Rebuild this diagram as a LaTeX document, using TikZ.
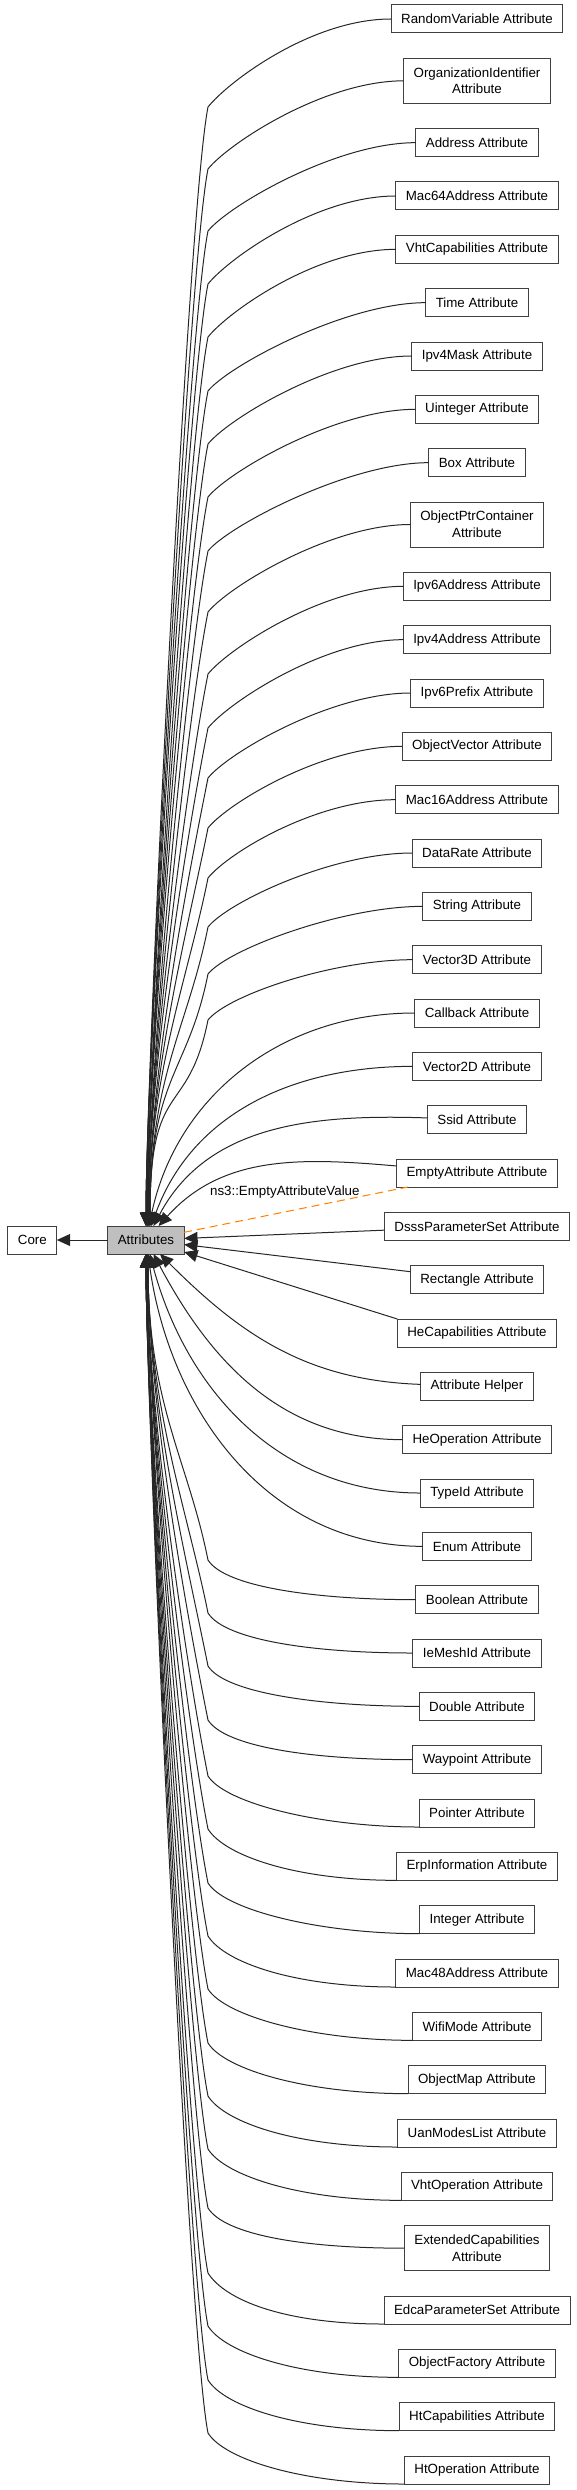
\documentclass[tikz,border=0pt]{standalone}
\usepackage{fontspec}
\setmainfont{Liberation Sans}
\usetikzlibrary{positioning,arrows.meta}
\tikzset{
  every node/.style={font=\fontsize{10}{12.5}\selectfont},
  cls/.style={draw=black!75,line width=0.75pt,rectangle,inner xsep=7.5pt,inner ysep=2pt,
    minimum height=21pt,outer sep=0pt,align=center},
  cls2/.style={cls,minimum height=33.75pt},
  inh/.style={color=black!85,line width=0.75pt,-{Triangle[length=10pt,width=9pt]}},
  tmpl/.style={draw=orange,line width=0.75pt,dash pattern=on 6pt off 3.75pt},
  upk/.style 2 args={to path={.. controls +(-80,0) and +(20,25) .. (208,#1)
    .. controls +(-20,-100) and +(0,150) .. ([shift={(#2,0)}]\tikztotarget.north)}},
  dnk/.style 2 args={to path={.. controls +(-100,0) and +(17,-27) .. (208,#1)
    .. controls +(-20,100) and +(0,-150) .. ([shift={(#2,0)}]\tikztotarget.south)}}
}
\begin{document}
\begin{tikzpicture}[x=0.75pt,y=0.75pt,node distance=19pt]
\useasboundingbox (0,0) rectangle (576,-2490);
\node[cls,fill=black!25] (attr) at (146,-1240) {Attributes};
\node[cls] (core) [left=38.25pt of attr] {Core};
\node[cls]  (rv)     at (477,-19)         {RandomVariable Attribute};
\node[cls2] (oid)    [below=of rv]     {OrganizationIdentifier\\Attribute};
\node[cls]  (addr)   [below=of oid]    {Address Attribute};
\node[cls]  (mac64)  [below=of addr]   {Mac64Address Attribute};
\node[cls]  (vhtcap) [below=of mac64]  {VhtCapabilities Attribute};
\node[cls]  (time)   [below=of vhtcap] {Time Attribute};
\node[cls]  (v4mask) [below=of time]   {Ipv4Mask Attribute};
\node[cls]  (uint)   [below=of v4mask] {Uinteger Attribute};
\node[cls]  (box)    [below=of uint]   {Box Attribute};
\node[cls2] (ptrc)   [below=of box]    {ObjectPtrContainer\\Attribute};
\node[cls]  (v6addr) [below=of ptrc]   {Ipv6Address Attribute};
\node[cls]  (v4addr) [below=of v6addr] {Ipv4Address Attribute};
\node[cls]  (v6pre)  [below=of v4addr] {Ipv6Prefix Attribute};
\node[cls]  (ovec)   [below=of v6pre]  {ObjectVector Attribute};
\node[cls]  (mac16)  [below=of ovec]   {Mac16Address Attribute};
\node[cls]  (drate)  [below=of mac16]  {DataRate Attribute};
\node[cls]  (str)    [below=of drate]  {String Attribute};
\node[cls]  (v3d)    [below=of str]    {Vector3D Attribute};
\node[cls]  (cb)     [below=of v3d]    {Callback Attribute};
\node[cls]  (v2d)    [below=of cb]     {Vector2D Attribute};
\node[cls]  (ssid)   [below=of v2d]    {Ssid Attribute};
\node[cls]  (empty)  [below=of ssid]   {EmptyAttribute Attribute};
\node[cls]  (dsss)   [below=of empty]  {DsssParameterSet Attribute};
\node[cls]  (rect)   [below=of dsss]   {Rectangle Attribute};
\node[cls]  (hecap)  [below=of rect]   {HeCapabilities Attribute};
\node[cls]  (helper) [below=of hecap]  {Attribute Helper};
\node[cls]  (heop)   [below=of helper] {HeOperation Attribute};
\node[cls]  (tid)    [below=of heop]   {TypeId Attribute};
\node[cls]  (enum)   [below=of tid]    {Enum Attribute};
\node[cls]  (bool)   [below=of enum]   {Boolean Attribute};
\node[cls]  (mesh)   [below=of bool]   {IeMeshId Attribute};
\node[cls]  (dbl)    [below=of mesh]   {Double Attribute};
\node[cls]  (wp)     [below=of dbl]    {Waypoint Attribute};
\node[cls]  (ptr)    [below=of wp]     {Pointer Attribute};
\node[cls]  (erp)    [below=of ptr]    {ErpInformation Attribute};
\node[cls]  (int)    [below=of erp]    {Integer Attribute};
\node[cls]  (mac48)  [below=of int]    {Mac48Address Attribute};
\node[cls]  (wifi)   [below=of mac48]  {WifiMode Attribute};
\node[cls]  (omap)   [below=of wifi]   {ObjectMap Attribute};
\node[cls]  (uan)    [below=of omap]   {UanModesList Attribute};
\node[cls]  (vhtop)  [below=of uan]    {VhtOperation Attribute};
\node[cls2] (ext)    [below=of vhtop]  {ExtendedCapabilities\\Attribute};
\node[cls]  (edca)   [below=of ext]    {EdcaParameterSet Attribute};
\node[cls]  (ofac)   [below=of edca]   {ObjectFactory Attribute};
\node[cls]  (htcap)  [below=of ofac]   {HtCapabilities Attribute};
\node[cls]  (htop)   [below=of htcap]  {HtOperation Attribute};
% upper half
\path[inh] (rv.west)     edge[upk={-107}{0}]  (attr)
           (oid.west)    edge[upk={-169}{0}]  (attr)
           (addr.west)   edge[upk={-231}{0}]  (attr)
           (mac64.west)  edge[upk={-284}{0}]  (attr)
           (vhtcap.west) edge[upk={-337}{1}]  (attr)
           (time.west)   edge[upk={-391}{1}]  (attr)
           (v4mask.west) edge[upk={-444}{1}]  (attr)
           (uint.west)   edge[upk={-497}{1}]  (attr)
           (box.west)    edge[upk={-551}{2}]  (attr)
           (ptrc.west)   edge[upk={-612}{2}]  (attr)
           (v6addr.west) edge[upk={-674}{2}]  (attr)
           (v4addr.west) edge[upk={-728}{2}]  (attr)
           (v6pre.west)  edge[upk={-778}{3}]  (attr)
           (ovec.west)   edge[upk={-828}{3}]  (attr)
           (mac16.west)  edge[upk={-878}{3}]  (attr)
           (drate.west)  edge[upk={-927}{4}]  (attr)
           (str.west)    edge[upk={-974}{4}]  (attr)
           (v3d.west)    edge[upk={-1020}{4}] (attr)
           (cb)    edge[out=180,in=78]  (attr)
           (v2d)   edge[out=180,in=70]  (attr)
           (ssid)  edge[out=178,in=62]  (attr)
           (empty) edge[out=175,in=48]  (attr)
           (dsss)  edge (attr)
           (rect)  edge (attr)
           (hecap.north west) edge (attr);
% lower half
\path[inh] (helper) edge[out=178,in=-45] (attr)
           (heop)   edge[out=180,in=-62] (attr)
           (tid)    edge[out=180,in=-75] (attr)
           (enum)   edge[out=180,in=-82] (attr)
           (bool.west)        edge[dnk={-1560}{2}] (attr)
           (mesh.west)        edge[dnk={-1613}{2}] (attr)
           (dbl.west)         edge[dnk={-1666}{2}] (attr)
           (wp.west)          edge[dnk={-1720}{2}] (attr)
           (ptr.south west)   edge[dnk={-1776}{1}] (attr)
           (erp.south west)   edge[dnk={-1829}{1}] (attr)
           (int.south west)   edge[dnk={-1883}{1}] (attr)
           (mac48.south west) edge[dnk={-1936}{1}] (attr)
           (wifi.south west)  edge[dnk={-1989}{1}] (attr)
           (omap.south west)  edge[dnk={-2043}{0}] (attr)
           (uan.south west)   edge[dnk={-2096}{0}] (attr)
           (vhtop.south west) edge[dnk={-2149}{0}] (attr)
           (ext.west)         edge[dnk={-2208}{0}] (attr)
           (edca.south west)  edge[dnk={-2273}{0}] (attr)
           (ofac.south west)  edge[dnk={-2326}{0}] (attr)
           (htcap.south west) edge[dnk={-2380}{0}] (attr)
           (htop.south west)  edge[dnk={-2433}{0}] (attr);
\path[inh] (attr) edge (core);
\path (attr) edge[tmpl] node[pos=0.45,yshift=15pt] {ns3::EmptyAttributeValue} (empty);
\end{tikzpicture}
\end{document}
